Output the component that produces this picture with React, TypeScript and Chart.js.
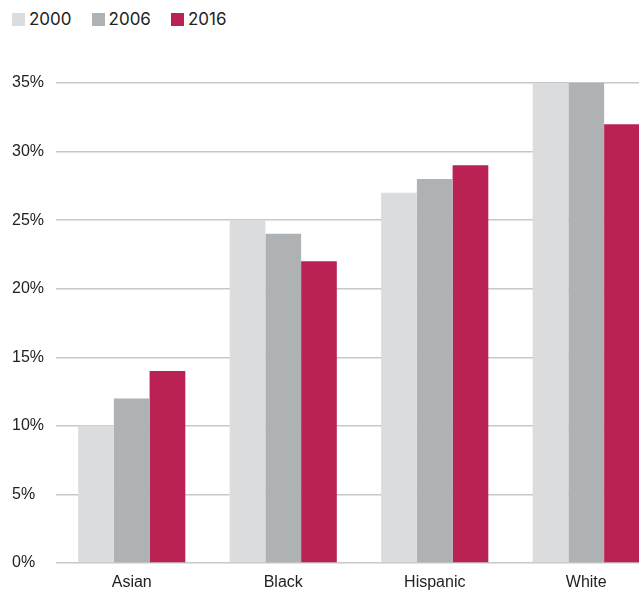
import React, { useEffect, useRef } from "react";
import { Chart, registerables } from "chart.js";

Chart.register(...registerables);

// Share of each group, by year (percent)
const categories = ["Asian", "Black", "Hispanic", "White"];
const years = ["2000", "2006", "2016"];
const values2000 = [10, 25, 27, 35];
const values2006 = [12, 24, 28, 35];
const values2016 = [14, 22, 29, 32];
const yearColors = ["#dbdcde", "#afb2b5", "#bb2254"];
const yTicks = [0, 5, 10, 15, 20, 25, 30, 35];

const TICK_FONT = "'Liberation Sans', Arial, sans-serif";
const LEGEND_FONT = "Inter, 'DejaVu Sans', sans-serif";

export default function App() {
  const canvasRef = useRef<HTMLCanvasElement | null>(null);

  useEffect(() => {
    const canvas = canvasRef.current;
    if (!canvas) return;
    const series = [values2000, values2006, values2016];
    const chart = new Chart(canvas, {
      type: "bar",
      data: {
        labels: categories,
        datasets: years.map((year, i) => ({
          label: year,
          data: series[i],
          backgroundColor: yearColors[i],
          borderWidth: 0,
          categoryPercentage: 0.707,
          barPercentage: 1,
        })),
      },
      options: {
        animation: false,
        responsive: false,
        maintainAspectRatio: false,
        layout: { padding: { top: 83, left: 12, right: 0, bottom: 0 } },
        plugins: {
          legend: { display: false },
          tooltip: { enabled: false },
        },
        scales: {
          x: {
            grid: { display: false, drawTicks: false },
            border: { display: false },
            afterFit: (axis: any) => {
              axis.height = 29;
            },
            ticks: {
              padding: 10,
              color: "#222",
              font: { family: TICK_FONT, size: 16 },
            },
          },
          y: {
            min: yTicks[0],
            max: yTicks[yTicks.length - 1],
            afterBuildTicks: (axis: any) => {
              axis.ticks = yTicks.map((v) => ({ value: v }));
            },
            afterFit: (axis: any) => {
              axis.width = 44;
            },
            grid: { color: "#c8c8c8", lineWidth: 1.5, drawTicks: false },
            border: { display: false },
            ticks: {
              crossAlign: "far",
              padding: 12,
              color: "#222",
              font: { family: TICK_FONT, size: 16 },
              callback: (v: any) => `${v}%`,
            },
          },
        },
      },
    });
    return () => chart.destroy();
  }, []);

  return (
    <div
      style={{
        position: "fixed",
        left: 0,
        top: 0,
        width: 639,
        height: 592,
        overflow: "hidden",
        background: "#fff",
      }}
    >
      <div
        style={{
          position: "absolute",
          left: 12,
          top: 9,
          display: "flex",
          alignItems: "center",
          fontFamily: LEGEND_FONT,
          fontSize: 17,
          color: "#222",
          lineHeight: "20px",
        }}
      >
        {years.map((year, i) => (
          <div
            key={year}
            style={{ display: "flex", alignItems: "center", marginRight: 20 }}
          >
            <span
              style={{
                display: "inline-block",
                width: 13,
                height: 13,
                background: yearColors[i],
                marginRight: 4,
              }}
            />
            <span>{year}</span>
          </div>
        ))}
      </div>
      <canvas
        ref={canvasRef}
        width={662}
        height={592}
        style={{ position: "absolute", left: 0, top: 0 }}
      />
    </div>
  );
}
